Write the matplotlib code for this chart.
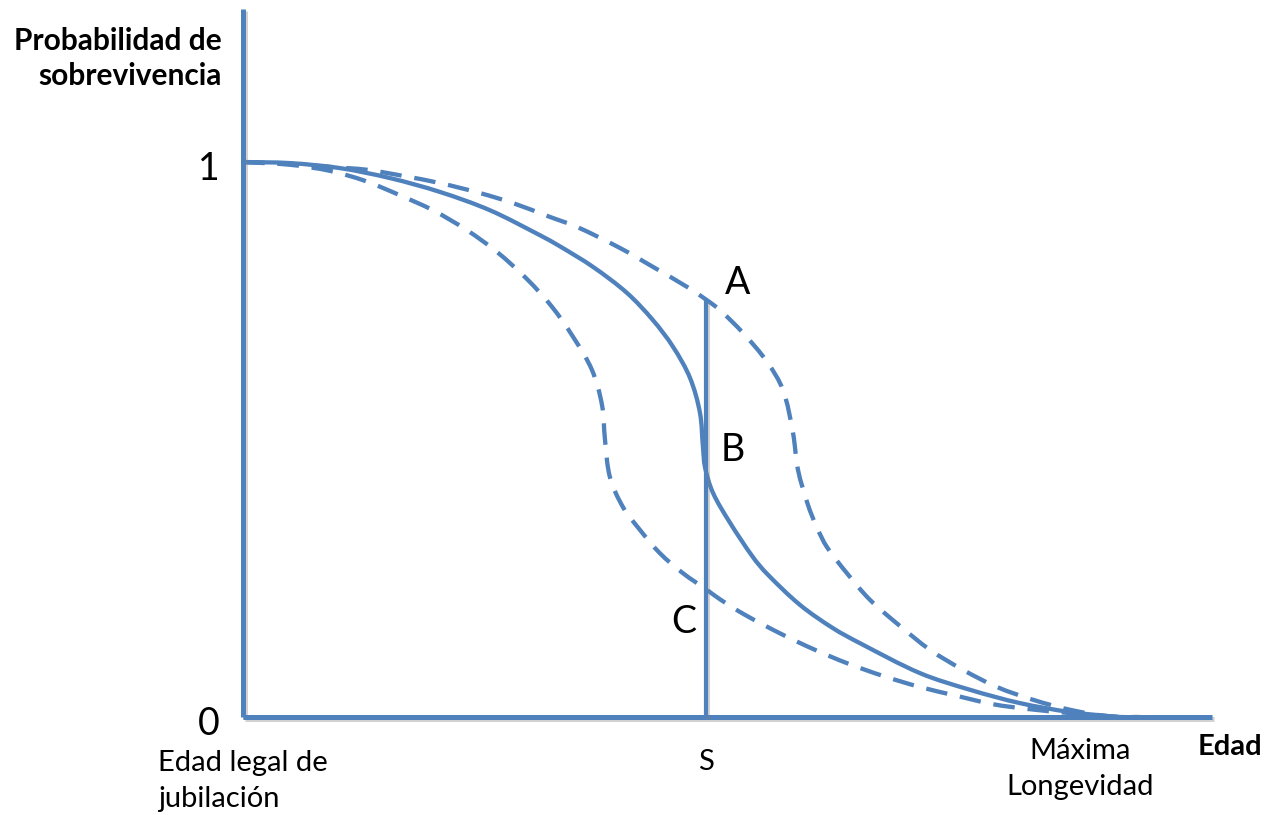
import matplotlib
matplotlib.use("Agg")
import numpy as np
import matplotlib.pyplot as plt
import matplotlib.patheffects as pe
from matplotlib.path import Path
from matplotlib.patches import PathPatch

# ---- data (age axis in % of the axis span; probability 0..1) ----
solid_x = [0, 4.85, 10.01, 15.17, 20.33, 25.49, 30.65, 32.71, 36.12, 39.63, 42.31, 44.38,
           46.13, 47.16, 47.47, 47.68, 48.50, 50.26, 52.63, 54.08, 57.48, 60.89, 63.67,
           69.87, 75.03, 80.19, 85.35, 90.51, 92.57]
solid_y = [1.000, 0.998, 0.989, 0.971, 0.946, 0.913, 0.868, 0.848, 0.811, 0.764, 0.715, 0.667,
           0.611, 0.548, 0.486, 0.450, 0.404, 0.350, 0.288, 0.258, 0.202, 0.160, 0.133,
           0.079, 0.049, 0.025, 0.009, 0.000, 0.000]

upper_x = [0, 5.16, 8.98, 12.80, 16.51, 20.33, 24.46, 27.86, 31.68, 34.47, 38.91, 42.31,
           45.82, 47.88, 49.23, 51.60, 54.08, 55.73, 56.76, 57.28, 58.31, 59.24, 60.27,
           62.33, 64.71, 67.80, 70.90, 74.30, 77.81, 81.53, 85.35, 89.78, 92.26]
upper_y = [1.000, 0.996, 0.991, 0.986, 0.975, 0.962, 0.944, 0.926, 0.901, 0.883, 0.845, 0.811,
           0.775, 0.751, 0.733, 0.692, 0.640, 0.589, 0.512, 0.445, 0.382, 0.341, 0.306,
           0.259, 0.211, 0.164, 0.121, 0.085, 0.054, 0.031, 0.013, 0.000, 0.000]

lower_x = [0, 4.85, 8.98, 12.59, 16.20, 19.61, 23.12, 26.21, 29.31, 31.89, 34.06, 36.02,
           37.05, 37.36, 37.87, 39.22, 40.97, 43.03, 45.41, 47.88, 49.23, 51.81, 55.73,
           59.03, 62.33, 66.05, 69.87, 73.68, 77.40, 81.22, 85.35, 90.51]
lower_y = [1.000, 0.995, 0.984, 0.966, 0.940, 0.913, 0.877, 0.838, 0.789, 0.739, 0.685, 0.625,
           0.562, 0.499, 0.432, 0.378, 0.337, 0.295, 0.259, 0.229, 0.212, 0.184, 0.148,
           0.121, 0.097, 0.074, 0.054, 0.038, 0.023, 0.014, 0.007, 0.000]

s_age = 47.8
a_prob = 0.751
point_labels = ["A", "B", "C"]
point_y = [0.782, 0.481, 0.171]
point_x = [51.0, 50.5, 45.5]
axis_top = 1.276
axis_end = 100
ytick_vals = [1, 0]
ytick_labels = ["1", "0"]

blue = "#4F81BD"
plt.rcParams['font.family'] = ['Lato', 'DejaVu Sans']

fig = plt.figure(figsize=(12.64, 8.15), dpi=100)
ax = fig.add_axes([0, 0, 1, 1])
ax.set_xlim(-25.08, 105.37)
ax.set_ylim(-0.1766, 1.2919)
ax.axis("off")


def smooth_path(xs, ys):
    """Smooth Bezier path through the given points (tangents computed in display space)."""
    pts = ax.transData.transform(np.column_stack([xs, ys]))
    n = len(pts)
    verts = [pts[0]]
    codes = [Path.MOVETO]
    tang = []
    for i in range(n):
        a = pts[max(i - 1, 0)]
        b = pts[min(i + 1, n - 1)]
        d = b - a
        nd = np.hypot(*d)
        tang.append(d / nd if nd > 0 else np.zeros(2))
    for i in range(n - 1):
        p, q = pts[i], pts[i + 1]
        L = np.hypot(*(q - p))
        verts += [p + tang[i] * L / 3, q - tang[i + 1] * L / 3, q]
        codes += [Path.CURVE4] * 3
    verts = ax.transData.inverted().transform(np.array(verts))
    return Path(verts, codes)


shadow = [pe.SimpleLineShadow(offset=(1.2, -1.5), shadow_color="#7f7f7f", alpha=0.35), pe.Normal()]

# axes lines
ax.plot([0, 0], [0, axis_top], color=blue, lw=3.6, solid_capstyle="butt", path_effects=shadow)
ax.plot([0, axis_end], [0, 0], color=blue, lw=3.6, solid_capstyle="butt", path_effects=shadow)

# curves
ax.add_patch(PathPatch(smooth_path(solid_x, solid_y), fill=False, edgecolor=blue, lw=3.1,
                       joinstyle="round", capstyle="butt"))
for xs, ys in [(upper_x, upper_y), (lower_x, lower_y)]:
    ax.add_patch(PathPatch(smooth_path(xs, ys), fill=False, edgecolor=blue, lw=3.1,
                           linestyle=(0, (5.0, 3.0)), capstyle="butt"))

# vertical line at S
ax.plot([s_age, s_age], [0, a_prob], color=blue, lw=3.0, solid_capstyle="butt", path_effects=shadow)

for lab, px, py in zip(point_labels, point_x, point_y):
    ax.text(px, py, lab, fontsize=27, ha="center", va="center", color="black")

for v, t in zip(ytick_vals, ytick_labels):
    ax.text(-2.4, v - 0.012, t, fontsize=27, ha="right", va="center", color="black")

ax.text(-2.17, 1.186, "Probabilidad de\nsobrevivencia", fontsize=21.5, fontweight="bold",
        ha="right", va="center", multialignment="right", linespacing=1.29)
ax.text(-8.77, -0.115, "Edad legal de\njubilación", fontsize=21, ha="left", va="center",
        multialignment="left", linespacing=1.48)
ax.text(s_age, -0.081, "S", fontsize=21, ha="center", va="center")
ax.text(86.4, -0.094, "Máxima\nLongevidad", fontsize=21, ha="center", va="center",
        multialignment="center", linespacing=1.48)
ax.text(101.86, -0.054, "Edad", fontsize=21, fontweight="bold", ha="center", va="center")

fig.savefig("out.png", dpi=100)
